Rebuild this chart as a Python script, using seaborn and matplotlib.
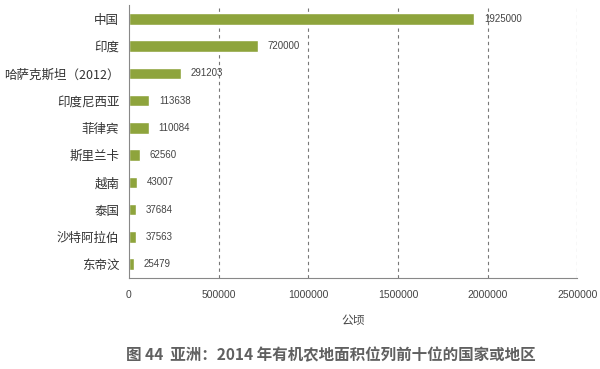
import numpy as np
import pandas as pd
import seaborn as sns
from matplotlib import pyplot as plt

countries = ['中国', '印度', '哈萨克斯坦（2012）', '印度尼西亚', '菲律宾',
             '斯里兰卡', '越南', '泰国', '沙特阿拉伯', '东帝汶']
areas = [1925000, 720000, 291203, 113638, 110084, 62560, 43007, 37684, 37563, 25479]
xticks = [0, 500000, 1000000, 1500000, 2000000, 2500000]

sns.set_style('white')
plt.rcParams['font.family'] = ['Noto Sans CJK SC', 'DejaVu Sans']
num_font = ['Liberation Sans', 'DejaVu Sans']

df = pd.DataFrame({'country': countries, 'area': areas})

fig = plt.figure(figsize=(6, 3.69), dpi=100)
ax = fig.add_axes([0.215, 0.247, 0.747, 0.739])
sns.barplot(data=df, x='area', y='country', color='#8ea43c', saturation=1,
            width=0.42, ax=ax)

ax.set_xlim(0, 2500000)
ax.set_xticks(xticks)
ax.set_xticklabels([str(v) for v in xticks], fontsize=7.5, color='#444444',
                   family=num_font)
ax.tick_params(axis='x', length=0, pad=9)
ax.set_yticks(range(len(countries)))
ax.set_yticklabels(countries, fontsize=9, color='#333333')
ax.tick_params(axis='y', length=0, pad=7)
ax.set_yticks(np.arange(-0.5, len(countries), 1), minor=True)
ax.tick_params(axis='y', which='minor', length=4, color='#888888', direction='out')
ax.set_ylim(len(countries) - 0.5, -0.5)
ax.set_xlabel('公顷', fontsize=8.5, color='#444444', labelpad=10)
ax.set_ylabel('')

for x in xticks[1:]:
    ax.axvline(x, color='#777777', linestyle=(0, (3, 3)), linewidth=0.8, zorder=0)

for i, v in enumerate(areas):
    ax.annotate(str(v), (v, i), xytext=(7, 0), textcoords='offset points',
                va='center', ha='left', fontsize=7, color='#444444', family=num_font)

sns.despine(ax=ax, top=True, right=True)
for s in ['left', 'bottom']:
    ax.spines[s].set_color('#888888')
    ax.spines[s].set_linewidth(0.8)

fig.text(0.552, 0.038, '图 44  亚洲：2014 年有机农地面积位列前十位的国家或地区',
         ha='center', va='center', fontsize=11.2, fontweight='bold', color='#606060')

fig.savefig('out.png', dpi=100)
